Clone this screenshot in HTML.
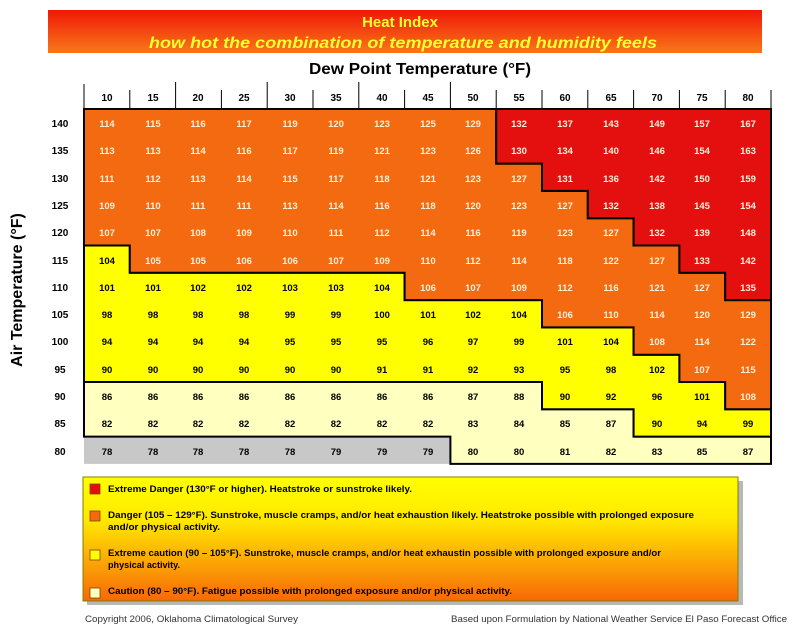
<!DOCTYPE html>
<html><head><meta charset="utf-8"><style>
html,body{margin:0;padding:0;background:#fff;}
body{width:800px;height:631px;overflow:hidden;position:relative;font-family:"Liberation Sans Narrow","Liberation Sans",sans-serif;}
</style></head><body>
<svg width="800" height="631" viewBox="0 0 800 631" xmlns="http://www.w3.org/2000/svg" style="position:absolute;left:0;top:0">
<defs>
<linearGradient id="ban" x1="0" y1="0" x2="0" y2="1"><stop offset="0" stop-color="#f01808"/><stop offset="1" stop-color="#f87818"/></linearGradient>
<linearGradient id="leg" x1="0" y1="0" x2="0" y2="1"><stop offset="0" stop-color="#ffff00"/><stop offset="0.35" stop-color="#ffe800"/><stop offset="1" stop-color="#f86808"/></linearGradient>
</defs>
<rect x="48" y="10" width="714" height="43" fill="url(#ban)"/>
<text x="400" y="27" text-anchor="middle" font-size="15" font-weight="bold" fill="#ffff30" font-family="Liberation Sans Narrow, Liberation Sans, sans-serif">Heat Index</text>
<text x="403" y="48" text-anchor="middle" font-size="16" font-weight="bold" font-style="italic" fill="#ffff30" textLength="508" lengthAdjust="spacingAndGlyphs" font-family="Liberation Sans Narrow, Liberation Sans, sans-serif">how hot the combination of temperature and humidity feels</text>
<text x="420" y="74" text-anchor="middle" font-size="16" font-weight="bold" fill="#000" textLength="222" lengthAdjust="spacingAndGlyphs" font-family="Liberation Sans Narrow, Liberation Sans, sans-serif">Dew Point Temperature (°F)</text>
<text transform="translate(22,290) rotate(-90)" text-anchor="middle" font-size="16" font-weight="bold" fill="#000" font-family="Liberation Sans Narrow, Liberation Sans, sans-serif">Air Temperature (°F)</text>
<g stroke="#000" stroke-width="1">
<line x1="84" y1="109" x2="771" y2="109"/>
<line x1="84" y1="84" x2="84" y2="109"/><line x1="129.8" y1="90" x2="129.8" y2="109"/><line x1="175.6" y1="82" x2="175.6" y2="109"/><line x1="221.4" y1="90" x2="221.4" y2="109"/><line x1="267.2" y1="82" x2="267.2" y2="109"/><line x1="313" y1="90" x2="313" y2="109"/><line x1="358.8" y1="82" x2="358.8" y2="109"/><line x1="404.6" y1="90" x2="404.6" y2="109"/><line x1="450.4" y1="82" x2="450.4" y2="109"/><line x1="496.2" y1="90" x2="496.2" y2="109"/><line x1="542" y1="90" x2="542" y2="109"/><line x1="587.8" y1="90" x2="587.8" y2="109"/><line x1="633.6" y1="90" x2="633.6" y2="109"/><line x1="679.4" y1="90" x2="679.4" y2="109"/><line x1="725.2" y1="90" x2="725.2" y2="109"/><line x1="771" y1="90" x2="771" y2="109"/>
</g>
<g font-size="10" font-weight="bold" text-anchor="middle" fill="#000" font-family="Liberation Sans Narrow, Liberation Sans, sans-serif">
<text x="107" y="101">10</text><text x="153" y="101">15</text><text x="198" y="101">20</text><text x="244" y="101">25</text><text x="290" y="101">30</text><text x="336" y="101">35</text><text x="382" y="101">40</text><text x="428" y="101">45</text><text x="473" y="101">50</text><text x="519" y="101">55</text><text x="565" y="101">60</text><text x="611" y="101">65</text><text x="657" y="101">70</text><text x="702" y="101">75</text><text x="748" y="101">80</text>
</g>
<g transform="translate(84,109) scale(45.8,27.3)">
<rect x="0" y="12" width="8" height="1" fill="#c8c8c8"/>
<polygon points="0,10 10,10 10,11 12,11 12,12 15,12 15,13 8,13 8,12 0,12" fill="#ffffc0" stroke="#000" stroke-width="2" vector-effect="non-scaling-stroke"/>
<polygon points="0,5 1,5 1,6 7,6 7,7 10,7 10,8 12,8 12,9 13,9 13,10 14,10 14,11 15,11 15,12 12,12 12,11 10,11 10,10 0,10" fill="#ffff00" stroke="#000" stroke-width="2" vector-effect="non-scaling-stroke"/>
<polygon points="0,0 9,0 9,2 10,2 10,3 11,3 11,4 12,4 12,5 13,5 13,6 14,6 14,7 15,7 15,11 14,11 14,10 13,10 13,9 12,9 12,8 10,8 10,7 7,7 7,6 1,6 1,5 0,5" fill="#f46a10" stroke="#000" stroke-width="2" vector-effect="non-scaling-stroke"/>
<polygon points="9,0 15,0 15,7 14,7 14,6 13,6 13,5 12,5 12,4 11,4 11,3 10,3 10,2 9,2" fill="#e41010" stroke="#000" stroke-width="2" vector-effect="non-scaling-stroke"/>
</g>
<g font-size="10" font-weight="bold" text-anchor="middle" fill="#000" font-family="Liberation Sans Narrow, Liberation Sans, sans-serif">
<text x="60" y="127">140</text><text x="60" y="154">135</text><text x="60" y="182">130</text><text x="60" y="209">125</text><text x="60" y="236">120</text><text x="60" y="264">115</text><text x="60" y="291">110</text><text x="60" y="318">105</text><text x="60" y="345">100</text><text x="60" y="373">95</text><text x="60" y="400">90</text><text x="60" y="427">85</text><text x="60" y="455">80</text>
</g>
<g font-size="9.5" font-weight="bold" text-anchor="middle" fill="#fff0d8" font-family="Liberation Sans Narrow, Liberation Sans, sans-serif">
<text x="107" y="127">114</text><text x="153" y="127">115</text><text x="198" y="127">116</text><text x="244" y="127">117</text><text x="290" y="127">119</text><text x="336" y="127">120</text><text x="382" y="127">123</text><text x="428" y="127">125</text><text x="473" y="127">129</text><text x="519" y="127">132</text><text x="565" y="127">137</text><text x="611" y="127">143</text><text x="657" y="127">149</text><text x="702" y="127">157</text><text x="748" y="127">167</text>
<text x="107" y="154">113</text><text x="153" y="154">113</text><text x="198" y="154">114</text><text x="244" y="154">116</text><text x="290" y="154">117</text><text x="336" y="154">119</text><text x="382" y="154">121</text><text x="428" y="154">123</text><text x="473" y="154">126</text><text x="519" y="154">130</text><text x="565" y="154">134</text><text x="611" y="154">140</text><text x="657" y="154">146</text><text x="702" y="154">154</text><text x="748" y="154">163</text>
<text x="107" y="182">111</text><text x="153" y="182">112</text><text x="198" y="182">113</text><text x="244" y="182">114</text><text x="290" y="182">115</text><text x="336" y="182">117</text><text x="382" y="182">118</text><text x="428" y="182">121</text><text x="473" y="182">123</text><text x="519" y="182">127</text><text x="565" y="182">131</text><text x="611" y="182">136</text><text x="657" y="182">142</text><text x="702" y="182">150</text><text x="748" y="182">159</text>
<text x="107" y="209">109</text><text x="153" y="209">110</text><text x="198" y="209">111</text><text x="244" y="209">111</text><text x="290" y="209">113</text><text x="336" y="209">114</text><text x="382" y="209">116</text><text x="428" y="209">118</text><text x="473" y="209">120</text><text x="519" y="209">123</text><text x="565" y="209">127</text><text x="611" y="209">132</text><text x="657" y="209">138</text><text x="702" y="209">145</text><text x="748" y="209">154</text>
<text x="107" y="236">107</text><text x="153" y="236">107</text><text x="198" y="236">108</text><text x="244" y="236">109</text><text x="290" y="236">110</text><text x="336" y="236">111</text><text x="382" y="236">112</text><text x="428" y="236">114</text><text x="473" y="236">116</text><text x="519" y="236">119</text><text x="565" y="236">123</text><text x="611" y="236">127</text><text x="657" y="236">132</text><text x="702" y="236">139</text><text x="748" y="236">148</text>
<text x="153" y="264">105</text><text x="198" y="264">105</text><text x="244" y="264">106</text><text x="290" y="264">106</text><text x="336" y="264">107</text><text x="382" y="264">109</text><text x="428" y="264">110</text><text x="473" y="264">112</text><text x="519" y="264">114</text><text x="565" y="264">118</text><text x="611" y="264">122</text><text x="657" y="264">127</text><text x="702" y="264">133</text><text x="748" y="264">142</text>
<text x="428" y="291">106</text><text x="473" y="291">107</text><text x="519" y="291">109</text><text x="565" y="291">112</text><text x="611" y="291">116</text><text x="657" y="291">121</text><text x="702" y="291">127</text><text x="748" y="291">135</text>
<text x="565" y="318">106</text><text x="611" y="318">110</text><text x="657" y="318">114</text><text x="702" y="318">120</text><text x="748" y="318">129</text>
<text x="657" y="345">108</text><text x="702" y="345">114</text><text x="748" y="345">122</text>
<text x="702" y="373">107</text><text x="748" y="373">115</text>
<text x="748" y="400">108</text>
</g>
<g font-size="9.5" font-weight="bold" text-anchor="middle" fill="#000" font-family="Liberation Sans Narrow, Liberation Sans, sans-serif">
<text x="107" y="264">104</text>
<text x="107" y="291">101</text><text x="153" y="291">101</text><text x="198" y="291">102</text><text x="244" y="291">102</text><text x="290" y="291">103</text><text x="336" y="291">103</text><text x="382" y="291">104</text>
<text x="107" y="318">98</text><text x="153" y="318">98</text><text x="198" y="318">98</text><text x="244" y="318">98</text><text x="290" y="318">99</text><text x="336" y="318">99</text><text x="382" y="318">100</text><text x="428" y="318">101</text><text x="473" y="318">102</text><text x="519" y="318">104</text>
<text x="107" y="345">94</text><text x="153" y="345">94</text><text x="198" y="345">94</text><text x="244" y="345">94</text><text x="290" y="345">95</text><text x="336" y="345">95</text><text x="382" y="345">95</text><text x="428" y="345">96</text><text x="473" y="345">97</text><text x="519" y="345">99</text><text x="565" y="345">101</text><text x="611" y="345">104</text>
<text x="107" y="373">90</text><text x="153" y="373">90</text><text x="198" y="373">90</text><text x="244" y="373">90</text><text x="290" y="373">90</text><text x="336" y="373">90</text><text x="382" y="373">91</text><text x="428" y="373">91</text><text x="473" y="373">92</text><text x="519" y="373">93</text><text x="565" y="373">95</text><text x="611" y="373">98</text><text x="657" y="373">102</text>
<text x="107" y="400">86</text><text x="153" y="400">86</text><text x="198" y="400">86</text><text x="244" y="400">86</text><text x="290" y="400">86</text><text x="336" y="400">86</text><text x="382" y="400">86</text><text x="428" y="400">86</text><text x="473" y="400">87</text><text x="519" y="400">88</text><text x="565" y="400">90</text><text x="611" y="400">92</text><text x="657" y="400">96</text><text x="702" y="400">101</text>
<text x="107" y="427">82</text><text x="153" y="427">82</text><text x="198" y="427">82</text><text x="244" y="427">82</text><text x="290" y="427">82</text><text x="336" y="427">82</text><text x="382" y="427">82</text><text x="428" y="427">82</text><text x="473" y="427">83</text><text x="519" y="427">84</text><text x="565" y="427">85</text><text x="611" y="427">87</text><text x="657" y="427">90</text><text x="702" y="427">94</text><text x="748" y="427">99</text>
<text x="107" y="455">78</text><text x="153" y="455">78</text><text x="198" y="455">78</text><text x="244" y="455">78</text><text x="290" y="455">78</text><text x="336" y="455">79</text><text x="382" y="455">79</text><text x="428" y="455">79</text><text x="473" y="455">80</text><text x="519" y="455">80</text><text x="565" y="455">81</text><text x="611" y="455">82</text><text x="657" y="455">83</text><text x="702" y="455">85</text><text x="748" y="455">87</text>
</g>
<rect x="87" y="481" width="656" height="124" fill="#888" opacity="0.6"/>
<rect x="83" y="477" width="655" height="124" fill="url(#leg)" stroke="#808000" stroke-width="1"/>
<rect x="90" y="484" width="10" height="10" fill="#e41010" stroke="#804000" stroke-width="0.8"/>
<rect x="90" y="511" width="10" height="10" fill="#f46a10" stroke="#804000" stroke-width="0.8"/>
<rect x="90" y="550" width="10" height="10" fill="#ffff00" stroke="#804000" stroke-width="0.8"/>
<rect x="90" y="588" width="10" height="10" fill="#ffffc0" stroke="#804000" stroke-width="0.8"/>
<g font-size="9" font-weight="bold" fill="#000" font-family="Liberation Sans Narrow, Liberation Sans, sans-serif" lengthAdjust="spacingAndGlyphs">
<text x="108" y="492" textLength="304" lengthAdjust="spacingAndGlyphs">Extreme Danger (130°F or higher).  Heatstroke or sunstroke likely.</text>
<text x="108" y="518" textLength="586" lengthAdjust="spacingAndGlyphs">Danger (105 – 129°F).  Sunstroke, muscle cramps, and/or heat exhaustion likely.  Heatstroke possible with prolonged exposure</text>
<text x="108" y="530" textLength="112" lengthAdjust="spacingAndGlyphs">and/or physical activity.</text>
<text x="108" y="556" textLength="553" lengthAdjust="spacingAndGlyphs">Extreme caution (90 – 105°F).  Sunstroke, muscle cramps, and/or heat exhaustin possible with prolonged exposure and/or</text>
<text x="108" y="568" textLength="72" lengthAdjust="spacingAndGlyphs">physical activity.</text>
<text x="108" y="594" textLength="404" lengthAdjust="spacingAndGlyphs">Caution (80 – 90°F).  Fatigue possible with prolonged exposure and/or physical activity.</text>
</g>
<g font-size="9" fill="#333" font-family="Liberation Sans Narrow, Liberation Sans, sans-serif">
<text x="85" y="622" textLength="213" lengthAdjust="spacingAndGlyphs">Copyright 2006, Oklahoma Climatological Survey</text>
<text x="451" y="622" textLength="336" lengthAdjust="spacingAndGlyphs">Based upon Formulation by National Weather Service El Paso Forecast Office</text>
</g>
</svg>
</body></html>
